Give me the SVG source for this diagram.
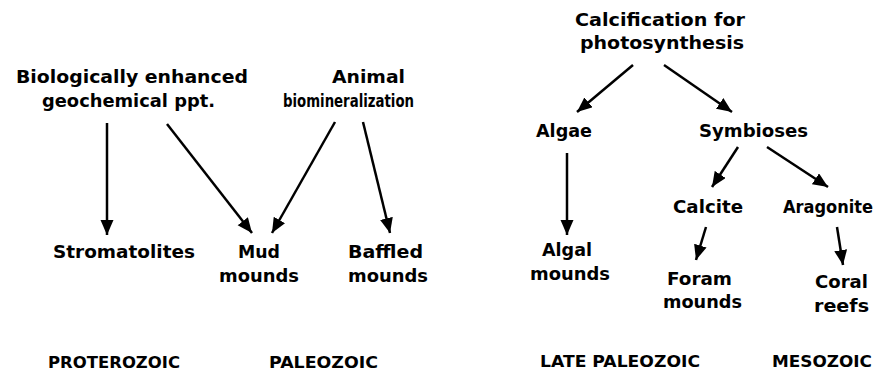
<svg xmlns="http://www.w3.org/2000/svg" width="885" height="373" viewBox="0 0 885 373">
<style>
text{font-family:"DejaVu Sans","Liberation Sans",sans-serif;font-weight:bold;font-size:18px;fill:#000;text-anchor:start}
.era{font-size:16px}
.c line{stroke:#000;stroke-width:2.5;marker-end:url(#ah)}
</style>
<defs>
<marker id="ah" markerUnits="userSpaceOnUse" markerWidth="16" markerHeight="14" refX="15" refY="6.5" orient="auto">
<path d="M0,0 L15,6.5 L0,13 z" fill="#000"/>
</marker>
</defs>
<rect width="885" height="373" fill="#fff"/>
<g id="n-bio">
<text x="16" y="83" textLength="232" lengthAdjust="spacingAndGlyphs">Biologically enhanced</text>
<text x="42" y="107" textLength="173" lengthAdjust="spacingAndGlyphs">geochemical ppt.</text>
</g>
<g id="n-animal">
<text x="332" y="83" textLength="73" lengthAdjust="spacingAndGlyphs">Animal</text>
<text x="283" y="107" textLength="131" lengthAdjust="spacingAndGlyphs">biomineralization</text>
</g>
<g id="n-strom"><text x="53" y="258" textLength="142" lengthAdjust="spacingAndGlyphs">Stromatolites</text></g>
<g id="n-mud">
<text x="238" y="258" textLength="42" lengthAdjust="spacingAndGlyphs">Mud</text>
<text x="219" y="282" textLength="80" lengthAdjust="spacingAndGlyphs">mounds</text>
</g>
<g id="n-baffled">
<text x="348" y="258" textLength="75" lengthAdjust="spacingAndGlyphs">Baffled</text>
<text x="348" y="282" textLength="80" lengthAdjust="spacingAndGlyphs">mounds</text>
</g>
<g id="n-calc">
<text x="575" y="26" textLength="170" lengthAdjust="spacingAndGlyphs">Calcification for</text>
<text x="580" y="49" textLength="164" lengthAdjust="spacingAndGlyphs">photosynthesis</text>
</g>
<g id="n-algae"><text x="536" y="137" textLength="56" lengthAdjust="spacingAndGlyphs">Algae</text></g>
<g id="n-symb"><text x="699" y="137" textLength="109" lengthAdjust="spacingAndGlyphs">Symbioses</text></g>
<g id="n-algal">
<text x="542" y="256" textLength="50" lengthAdjust="spacingAndGlyphs">Algal</text>
<text x="530" y="280" textLength="80" lengthAdjust="spacingAndGlyphs">mounds</text>
</g>
<g id="n-calcite"><text x="673" y="213" textLength="70" lengthAdjust="spacingAndGlyphs">Calcite</text></g>
<g id="n-arag"><text x="783" y="213" textLength="90" lengthAdjust="spacingAndGlyphs">Aragonite</text></g>
<g id="n-foram">
<text x="667" y="285" textLength="65" lengthAdjust="spacingAndGlyphs">Foram</text>
<text x="663" y="308" textLength="79" lengthAdjust="spacingAndGlyphs">mounds</text>
</g>
<g id="n-coral">
<text x="815" y="288" textLength="53" lengthAdjust="spacingAndGlyphs">Coral</text>
<text x="814" y="312" textLength="55" lengthAdjust="spacingAndGlyphs">reefs</text>
</g>
<g id="eras">
<text class="era" x="48" y="368" textLength="132" lengthAdjust="spacingAndGlyphs">PROTEROZOIC</text>
<text class="era" x="269" y="368" textLength="109" lengthAdjust="spacingAndGlyphs">PALEOZOIC</text>
<text class="era" x="540" y="367" textLength="160" lengthAdjust="spacingAndGlyphs">LATE PALEOZOIC</text>
<text class="era" x="772" y="367" textLength="100" lengthAdjust="spacingAndGlyphs">MESOZOIC</text>
</g>
<g class="c" id="connectors">
<line x1="107" y1="123" x2="107" y2="235"/>
<line x1="167" y1="124" x2="252" y2="233"/>
<line x1="335" y1="122" x2="272" y2="233"/>
<line x1="363" y1="122" x2="390" y2="233"/>
<line x1="633" y1="65" x2="577" y2="112"/>
<line x1="664" y1="65" x2="732" y2="112"/>
<line x1="567" y1="153" x2="567" y2="235"/>
<line x1="738" y1="147" x2="712" y2="187"/>
<line x1="767" y1="147" x2="828" y2="187"/>
<line x1="706" y1="227" x2="696" y2="260"/>
<line x1="837" y1="227" x2="843" y2="265"/>
</g>
</svg>
